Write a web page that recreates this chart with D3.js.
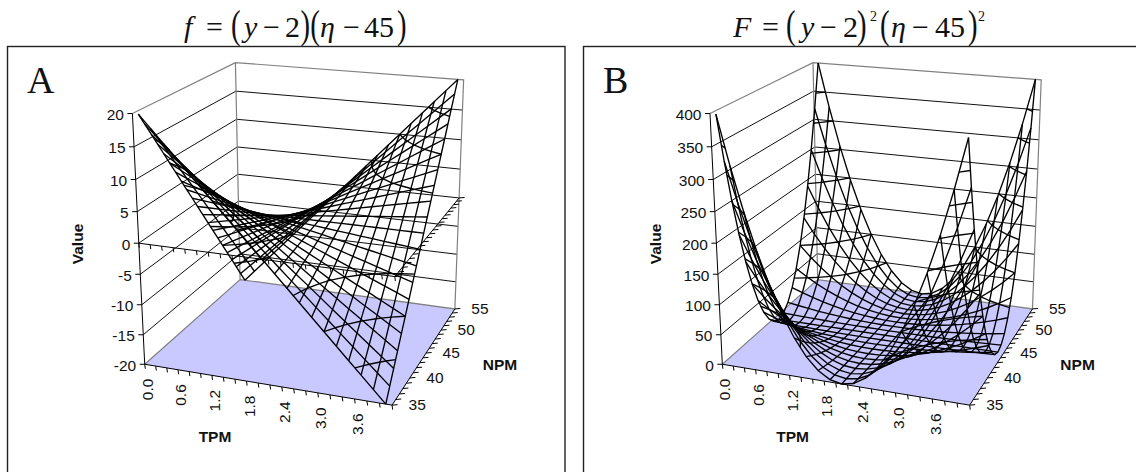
<html>
<head>
    <title>Surface charts of f and F</title>
    <script src="https://cdn.jsdelivr.net/npm/d3@7"></script>
    <style>
        body { margin: 0; background: #fff; }
        text { font-family: "Liberation Sans", Arial, sans-serif; fill: #111; }
        .serif { font-family: "Liberation Serif", "Times New Roman", serif; }
        .bold { font-weight: bold; }
    </style>
</head>
<body>
<script>
var tpm = ["0.0","0.2","0.4","0.6","0.8","1.0","1.2","1.4","1.6","1.8","2.0","2.2","2.4","2.6","2.8","3.0","3.2","3.4","3.6","3.8","4.0"];
var tpmLabels = ["0.0","0.6","1.2","1.8","2.4","3.0","3.6"];
var npm = [35,36,37,38,39,40,41,42,43,44,45,46,47,48,49,50,51,52,53,54,55];
var npmLabels = [35,40,45,50,55];
var levelsA = [-20,-15,-10,-5,0,5,10,15,20];
var levelsB = [0,50,100,150,200,250,300,350,400];

// one row per NPM, one column per TPM
var valuesA = [
    [20,18,16,14,12,10,8,6,4,2,0,-2,-4,-6,-8,-10,-12,-14,-16,-18,-20],
    [18,16.2,14.4,12.6,10.8,9,7.2,5.4,3.6,1.8,0,-1.8,-3.6,-5.4,-7.2,-9,-10.8,-12.6,-14.4,-16.2,-18],
    [16,14.4,12.8,11.2,9.6,8,6.4,4.8,3.2,1.6,0,-1.6,-3.2,-4.8,-6.4,-8,-9.6,-11.2,-12.8,-14.4,-16],
    [14,12.6,11.2,9.8,8.4,7,5.6,4.2,2.8,1.4,0,-1.4,-2.8,-4.2,-5.6,-7,-8.4,-9.8,-11.2,-12.6,-14],
    [12,10.8,9.6,8.4,7.2,6,4.8,3.6,2.4,1.2,0,-1.2,-2.4,-3.6,-4.8,-6,-7.2,-8.4,-9.6,-10.8,-12],
    [10,9,8,7,6,5,4,3,2,1,0,-1,-2,-3,-4,-5,-6,-7,-8,-9,-10],
    [8,7.2,6.4,5.6,4.8,4,3.2,2.4,1.6,0.8,0,-0.8,-1.6,-2.4,-3.2,-4,-4.8,-5.6,-6.4,-7.2,-8],
    [6,5.4,4.8,4.2,3.6,3,2.4,1.8,1.2,0.6,0,-0.6,-1.2,-1.8,-2.4,-3,-3.6,-4.2,-4.8,-5.4,-6],
    [4,3.6,3.2,2.8,2.4,2,1.6,1.2,0.8,0.4,0,-0.4,-0.8,-1.2,-1.6,-2,-2.4,-2.8,-3.2,-3.6,-4],
    [2,1.8,1.6,1.4,1.2,1,0.8,0.6,0.4,0.2,0,-0.2,-0.4,-0.6,-0.8,-1,-1.2,-1.4,-1.6,-1.8,-2],
    [0,0,0,0,0,0,0,0,0,0,0,0,0,0,0,0,0,0,0,0,0],
    [-2,-1.8,-1.6,-1.4,-1.2,-1,-0.8,-0.6,-0.4,-0.2,0,0.2,0.4,0.6,0.8,1,1.2,1.4,1.6,1.8,2],
    [-4,-3.6,-3.2,-2.8,-2.4,-2,-1.6,-1.2,-0.8,-0.4,0,0.4,0.8,1.2,1.6,2,2.4,2.8,3.2,3.6,4],
    [-6,-5.4,-4.8,-4.2,-3.6,-3,-2.4,-1.8,-1.2,-0.6,0,0.6,1.2,1.8,2.4,3,3.6,4.2,4.8,5.4,6],
    [-8,-7.2,-6.4,-5.6,-4.8,-4,-3.2,-2.4,-1.6,-0.8,0,0.8,1.6,2.4,3.2,4,4.8,5.6,6.4,7.2,8],
    [-10,-9,-8,-7,-6,-5,-4,-3,-2,-1,0,1,2,3,4,5,6,7,8,9,10],
    [-12,-10.8,-9.6,-8.4,-7.2,-6,-4.8,-3.6,-2.4,-1.2,0,1.2,2.4,3.6,4.8,6,7.2,8.4,9.6,10.8,12],
    [-14,-12.6,-11.2,-9.8,-8.4,-7,-5.6,-4.2,-2.8,-1.4,0,1.4,2.8,4.2,5.6,7,8.4,9.8,11.2,12.6,14],
    [-16,-14.4,-12.8,-11.2,-9.6,-8,-6.4,-4.8,-3.2,-1.6,0,1.6,3.2,4.8,6.4,8,9.6,11.2,12.8,14.4,16],
    [-18,-16.2,-14.4,-12.6,-10.8,-9,-7.2,-5.4,-3.6,-1.8,0,1.8,3.6,5.4,7.2,9,10.8,12.6,14.4,16.2,18],
    [-20,-18,-16,-14,-12,-10,-8,-6,-4,-2,0,2,4,6,8,10,12,14,16,18,20]
];
var valuesB = [
    [400,324,256,196,144,100,64,36,16,4,0,4,16,36,64,100,144,196,256,324,400],
    [324,262.44,207.36,158.76,116.64,81,51.84,29.16,12.96,3.24,0,3.24,12.96,29.16,51.84,81,116.64,158.76,207.36,262.44,324],
    [256,207.36,163.84,125.44,92.16,64,40.96,23.04,10.24,2.56,0,2.56,10.24,23.04,40.96,64,92.16,125.44,163.84,207.36,256],
    [196,158.76,125.44,96.04,70.56,49,31.36,17.64,7.84,1.96,0,1.96,7.84,17.64,31.36,49,70.56,96.04,125.44,158.76,196],
    [144,116.64,92.16,70.56,51.84,36,23.04,12.96,5.76,1.44,0,1.44,5.76,12.96,23.04,36,51.84,70.56,92.16,116.64,144],
    [100,81,64,49,36,25,16,9,4,1,0,1,4,9,16,25,36,49,64,81,100],
    [64,51.84,40.96,31.36,23.04,16,10.24,5.76,2.56,0.64,0,0.64,2.56,5.76,10.24,16,23.04,31.36,40.96,51.84,64],
    [36,29.16,23.04,17.64,12.96,9,5.76,3.24,1.44,0.36,0,0.36,1.44,3.24,5.76,9,12.96,17.64,23.04,29.16,36],
    [16,12.96,10.24,7.84,5.76,4,2.56,1.44,0.64,0.16,0,0.16,0.64,1.44,2.56,4,5.76,7.84,10.24,12.96,16],
    [4,3.24,2.56,1.96,1.44,1,0.64,0.36,0.16,0.04,0,0.04,0.16,0.36,0.64,1,1.44,1.96,2.56,3.24,4],
    [0,0,0,0,0,0,0,0,0,0,0,0,0,0,0,0,0,0,0,0,0],
    [4,3.24,2.56,1.96,1.44,1,0.64,0.36,0.16,0.04,0,0.04,0.16,0.36,0.64,1,1.44,1.96,2.56,3.24,4],
    [16,12.96,10.24,7.84,5.76,4,2.56,1.44,0.64,0.16,0,0.16,0.64,1.44,2.56,4,5.76,7.84,10.24,12.96,16],
    [36,29.16,23.04,17.64,12.96,9,5.76,3.24,1.44,0.36,0,0.36,1.44,3.24,5.76,9,12.96,17.64,23.04,29.16,36],
    [64,51.84,40.96,31.36,23.04,16,10.24,5.76,2.56,0.64,0,0.64,2.56,5.76,10.24,16,23.04,31.36,40.96,51.84,64],
    [100,81,64,49,36,25,16,9,4,1,0,1,4,9,16,25,36,49,64,81,100],
    [144,116.64,92.16,70.56,51.84,36,23.04,12.96,5.76,1.44,0,1.44,5.76,12.96,23.04,36,51.84,70.56,92.16,116.64,144],
    [196,158.76,125.44,96.04,70.56,49,31.36,17.64,7.84,1.96,0,1.96,7.84,17.64,31.36,49,70.56,96.04,125.44,158.76,196],
    [256,207.36,163.84,125.44,92.16,64,40.96,23.04,10.24,2.56,0,2.56,10.24,23.04,40.96,64,92.16,125.44,163.84,207.36,256],
    [324,262.44,207.36,158.76,116.64,81,51.84,29.16,12.96,3.24,0,3.24,12.96,29.16,51.84,81,116.64,158.76,207.36,262.44,324],
    [400,324,256,196,144,100,64,36,16,4,0,4,16,36,64,100,144,196,256,324,400]
];

var width = 1136;
var height = 472;
var floorColor = "#c9c9ff";
var wallColor = "#808080";

var svg = d3.select("body").append("svg")
    .attr("width", width)
    .attr("height", height)
    .style("display", "block");

// where the corners of the plot box landed in the picture (panel A), used to fit the camera
var boxCorners = [
    {cube: [0,0,0], px: [145,365]},
    {cube: [1,0,0], px: [391.7,405]},
    {cube: [1,1,0], px: [455,309]},
    {cube: [0,1,0], px: [240,279]},
    {cube: [0,0,1], px: [132.7,113]},
    {cube: [1,0,1], px: [397.5,138]},
    {cube: [1,1,1], px: [464,80]},
    {cube: [0,1,1], px: [235,63]}
];

// least squares 3x4 projective camera from the corners
function fitCamera(pts) {
    var n = 11, A = [], i, j, k;
    for (i = 0; i < n; i++) A.push(new Array(n + 1).fill(0));
    function addRow(r, b) {
        for (var a = 0; a < n; a++) {
            for (var c = 0; c < n; c++) A[a][c] += r[a] * r[c];
            A[a][n] += r[a] * b;
        }
    }
    pts.forEach(function(p) {
        var X = p.cube[0], Y = p.cube[1], Z = p.cube[2], u = p.px[0], v = p.px[1];
        addRow([X,Y,Z,1,0,0,0,0,-u*X,-u*Y,-u*Z], u);
        addRow([0,0,0,0,X,Y,Z,1,-v*X,-v*Y,-v*Z], v);
    });
    for (i = 0; i < n; i++) {
        var best = i;
        for (j = i + 1; j < n; j++) if (Math.abs(A[j][i]) > Math.abs(A[best][i])) best = j;
        var tmp = A[i]; A[i] = A[best]; A[best] = tmp;
        for (j = 0; j < n; j++) {
            if (j == i) continue;
            var m = A[j][i] / A[i][i];
            for (k = i; k <= n; k++) A[j][k] -= m * A[i][k];
        }
    }
    return A.map(function(row, r) { return row[n] / row[r]; });
}

var cam = fitCamera(boxCorners);

function project(X, Y, Z) {
    var w = cam[8]*X + cam[9]*Y + cam[10]*Z + 1;
    return [(cam[0]*X + cam[1]*Y + cam[2]*Z + cam[3]) / w,
            (cam[4]*X + cam[5]*Y + cam[6]*Z + cam[7]) / w];
}

var xScale = d3.scaleBand().domain(tpm).range([0, 1]);
var yScale = d3.scalePoint().domain(npm).range([0, 1]);
var line = d3.line();

function xMid(t) { return xScale(t) + xScale.bandwidth() / 2; }

// contour segments of the surface at one level, in grid coordinates
function contourSegments(values, level) {
    var segs = [];
    function cross(i0, j0, i1, j1) {
        var a = values[j0][i0], b = values[j1][i1];
        if ((a < level) == (b < level)) return null;
        var t = (level - a) / (b - a);
        return [i0 + (i1 - i0) * t, j0 + (j1 - j0) * t];
    }
    for (var j = 0; j < npm.length - 1; j++) {
        for (var i = 0; i < tpm.length - 1; i++) {
            var hits = [cross(i,j,i+1,j), cross(i+1,j,i+1,j+1), cross(i+1,j+1,i,j+1), cross(i,j+1,i,j)]
                .filter(function(d) { return d; });
            if (hits.length >= 2) segs.push([hits[0], hits[1]]);
            if (hits.length == 4) segs.push([hits[2], hits[3]]);
        }
    }
    return segs;
}

function drawPanel(g, values, levels, axisPlanes) {
    var zScale = d3.scaleLinear().domain(d3.extent(levels)).range([0, 1]);

    // floor
    g.append("path")
        .attr("d", line([project(0,0,0), project(1,0,0), project(1,1,0), project(0,1,0)]) + "Z")
        .attr("fill", floorColor);

    // wall gridlines
    g.selectAll(".grid").data(levels.slice(1, -1)).join("path")
        .attr("class", "grid")
        .attr("fill", "none")
        .attr("stroke", "#111")
        .attr("stroke-width", 1)
        .attr("d", function(d) {
            var w = zScale(d);
            return line([project(0,0,w), project(0,1,w), project(1,1,w)]);
        });

    // grey frame of the walls
    [[[0,0,1],[0,1,1],[1,1,1],[1,1,0],[0,1,0],[0,0,0]], [[0,1,1],[0,1,0]]].forEach(function(edge) {
        g.append("path")
            .attr("d", line(edge.map(function(c) { return project(c[0], c[1], c[2]); })))
            .attr("fill", "none")
            .attr("stroke", wallColor)
            .attr("stroke-width", 1.2);
    });

    // value axis
    g.append("path")
        .attr("d", line([project(0,0,0), project(0,0,1)]))
        .attr("stroke", "#000").attr("fill", "none");
    levels.forEach(function(d) {
        var p = project(0, 0, zScale(d));
        g.append("path").attr("d", line([[p[0] - 5, p[1]], p])).attr("stroke", "#000");
        g.append("text")
            .attr("x", p[0] - 8.5).attr("y", p[1] + 6.5)
            .attr("text-anchor", "end")
            .attr("font-size", 15.5)
            .text(d);
    });

    // category and series axes, on the floor and on the zero plane
    axisPlanes.forEach(function(level) {
        var w = zScale(level);
        g.append("path")
            .attr("d", line([project(0,0,w), project(1,0,w), project(1,1,w)]))
            .attr("fill", "none").attr("stroke", "#000");
        var xTicks = tpm.map(function(t) { return xScale(t); }).concat([1]);
        xTicks.forEach(function(x) {
            var p = project(x, 0, w);
            g.append("path").attr("d", line([p, [p[0] + 0.6, p[1] + 4.5]])).attr("stroke", "#000");
        });
        npm.forEach(function(n) {
            var p = project(1, yScale(n), w);
            g.append("path").attr("d", line([p, [p[0] + 5.5, p[1] - 0.5]])).attr("stroke", "#000");
        });
    });

    tpmLabels.forEach(function(t) {
        var p = project(xMid(t), 0, 0);
        g.append("text")
            .attr("transform", "translate(" + (p[0] + 2.5) + "," + (p[1] + 13.5) + ") rotate(-90)")
            .attr("text-anchor", "end")
            .attr("font-size", 15.5)
            .text(t);
    });
    npmLabels.forEach(function(n) {
        var p = project(1, yScale(n), 0);
        g.append("text")
            .attr("x", p[0] + 16.5).attr("y", p[1] + 5)
            .attr("font-size", 15.5)
            .text(n);
    });

    // wireframe, drawn see-through like the original
    var mesh = g.append("g").attr("fill", "none").attr("stroke", "#000").attr("stroke-width", 1.35);
    npm.forEach(function(n, j) {
        mesh.append("path").attr("d", line(tpm.map(function(t, i) {
            return project(xMid(t), yScale(n), zScale(values[j][i]));
        })));
    });
    tpm.forEach(function(t, i) {
        mesh.append("path").attr("d", line(npm.map(function(n, j) {
            return project(xMid(t), yScale(n), zScale(values[j][i]));
        })));
    });

    // band edges of the surface
    function gridPoint(q, level) {
        var X = xMid(tpm[0]) + q[0] * xScale.step();
        var Y = q[1] * yScale.step();
        return project(X, Y, zScale(level));
    }
    levels.slice(1, -1).forEach(function(level) {
        if (level == 0) return;
        contourSegments(values, level).forEach(function(s) {
            mesh.append("path").attr("d", line(s.map(function(q) { return gridPoint(q, level); })));
        });
    });

    // axis titles
    g.append("text")
        .attr("class", "bold")
        .attr("transform", "translate(83,244) rotate(-90)")
        .attr("text-anchor", "middle")
        .attr("font-size", 15.5)
        .text("Value");
    g.append("text").attr("class", "bold")
        .attr("x", 215).attr("y", 442)
        .attr("text-anchor", "middle").attr("font-size", 15.5)
        .text("TPM");
    g.append("text").attr("class", "bold")
        .attr("x", 500).attr("y", 370)
        .attr("text-anchor", "middle").attr("font-size", 15.5)
        .text("NPM");
}

// panel boxes run past the bottom and right of the picture
svg.append("rect").attr("x", 7.5).attr("y", 46.5).attr("width", 557.5).attr("height", 500)
    .attr("fill", "#fff").attr("stroke", "#222").attr("stroke-width", 1.4);
svg.append("rect").attr("x", 583.5).attr("y", 46.5).attr("width", 600).attr("height", 500)
    .attr("fill", "#fff").attr("stroke", "#222").attr("stroke-width", 1.4);

drawPanel(svg.append("g"), valuesA, levelsA, [-20, 0]);
drawPanel(svg.append("g").attr("transform", "translate(577.6,0)"), valuesB, levelsB, [0]);

// titles, piece by piece so the tall brackets sit right
var titleBits = [
    {t:"f", x:184, i:1}, {t:"=", x:206}, {t:"(", x:231, s:41}, {t:"y", x:244, i:1}, {t:"\u2212", x:263},
    {t:"2", x:285}, {t:")", x:300.5, s:41}, {t:"(", x:310.2, s:41}, {t:"\u03b7", x:320, i:1}, {t:"\u2212", x:343},
    {t:"45", x:364}, {t:")", x:397, s:41},
    {t:"F", x:733, i:1}, {t:"=", x:762}, {t:"(", x:786, s:41}, {t:"y", x:801, i:1}, {t:"\u2212", x:820},
    {t:"2", x:843}, {t:")", x:857, s:41}, {t:"2", x:870, s:14, b:21}, {t:"(", x:880, s:41}, {t:"\u03b7", x:891, i:1},
    {t:"\u2212", x:912}, {t:"45", x:935}, {t:")", x:968, s:41}, {t:"2", x:978, s:14, b:21}
];
svg.selectAll(".title").data(titleBits).join("text")
    .attr("class", "title serif")
    .attr("transform", function(d) {
        var y = d.b || (d.s ? 37.5 : 36.5);
        return "translate(" + d.x + "," + y + ")" + (d.s == 41 ? " scale(0.7,1)" : "");
    })
    .attr("font-size", function(d) { return d.s || 30; })
    .attr("font-style", function(d) { return d.i ? "italic" : null; })
    .text(function(d) { return d.t; });

svg.append("text").attr("class", "serif").attr("x", 27).attr("y", 93).attr("font-size", 38).text("A");
svg.append("text").attr("class", "serif").attr("x", 603).attr("y", 93).attr("font-size", 38).text("B");
</script>
</body>
</html>
